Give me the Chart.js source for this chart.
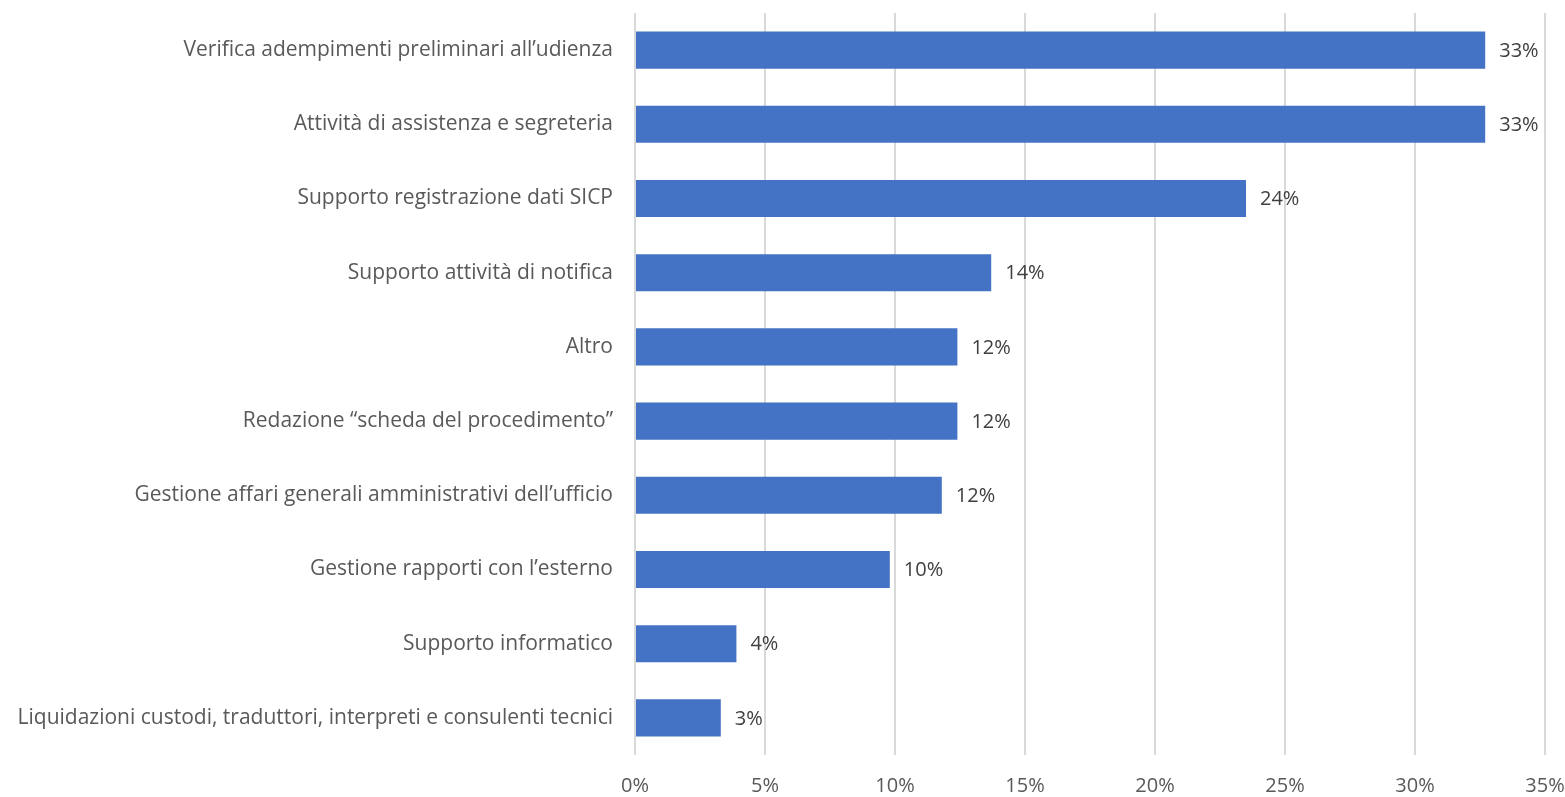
<!DOCTYPE html>
<html>
<head>
<meta charset="utf-8">
<script src="https://cdn.jsdelivr.net/npm/chart.js"></script>
<style>
  html, body { margin: 0; padding: 0; background: #fff; }
  #wrap { width: 1565px; height: 797px; }
</style>
</head>
<body>
<div id="wrap"><canvas id="chart"></canvas></div>
<script>
const categories = [
    "Verifica adempimenti preliminari all\u2019udienza",
    "Attività di assistenza e segreteria",
    "Supporto registrazione dati SICP",
    "Supporto attività di notifica",
    "Altro",
    "Redazione \u201cscheda del procedimento\u201d",
    "Gestione affari generali amministrativi dell\u2019ufficio",
    "Gestione rapporti con l\u2019esterno",
    "Supporto informatico",
    "Liquidazioni custodi, traduttori, interpreti e consulenti tecnici"
];
const shares = [32.7, 32.7, 23.5, 13.7, 12.4, 12.4, 11.8, 9.8, 3.9, 3.3];
const xTicks = [0, 5, 10, 15, 20, 25, 30, 35];

const fontFamily = "'Open Sans', 'Liberation Sans', sans-serif";
const textColor = "#595959";

// draws "33%" etc. just right of each bar
const barLabels = {
    id: "barLabels",
    afterDatasetsDraw(chart) {
        const ctx = chart.ctx;
        const meta = chart.getDatasetMeta(0);
        ctx.save();
        ctx.font = "20px " + fontFamily;
        ctx.fillStyle = "#404040";
        ctx.textAlign = "left";
        ctx.textBaseline = "middle";
        meta.data.forEach((bar, i) => {
            ctx.fillText(Math.round(shares[i]) + "%", bar.x + 14, bar.y + 1);
        });
        ctx.restore();
    }
};

new Chart(document.getElementById("chart"), {
    type: "bar",
    data: {
        labels: categories,
        datasets: [{
            data: shares,
            backgroundColor: "#4472C4",
            borderWidth: 0,
            categoryPercentage: 0.5,
            barPercentage: 1.0
        }]
    },
    options: {
        indexAxis: "y",
        responsive: true,
        maintainAspectRatio: false,
        animation: false,
        layout: { padding: { top: 13, right: 0, left: 0, bottom: 0 } },
        plugins: {
            legend: { display: false },
            tooltip: { enabled: false }
        },
        scales: {
            x: {
                min: 0,
                max: 35,
                afterBuildTicks(axis) {
                    axis.ticks = xTicks.map(v => ({ value: v }));
                },
                afterFit(axis) {
                    axis.height = 42;
                    axis.paddingLeft = 0;
                    axis.paddingRight = 20;
                },
                grid: {
                    color: "#d9d9d9",
                    lineWidth: 2,
                    drawTicks: false
                },
                border: { display: false },
                ticks: {
                    padding: 19,
                    color: textColor,
                    font: { family: fontFamily, size: 20 },
                    callback: v => v + "%"
                }
            },
            y: {
                afterFit(axis) {
                    axis.width = 635;
                    axis.paddingTop = 0;
                    axis.paddingBottom = 0;
                },
                grid: { display: false, drawTicks: false },
                border: { display: false },
                ticks: {
                    padding: 22,
                    color: textColor,
                    font: { family: fontFamily, size: 21 }
                }
            }
        }
    },
    plugins: [barLabels]
});
</script>
</body>
</html>
